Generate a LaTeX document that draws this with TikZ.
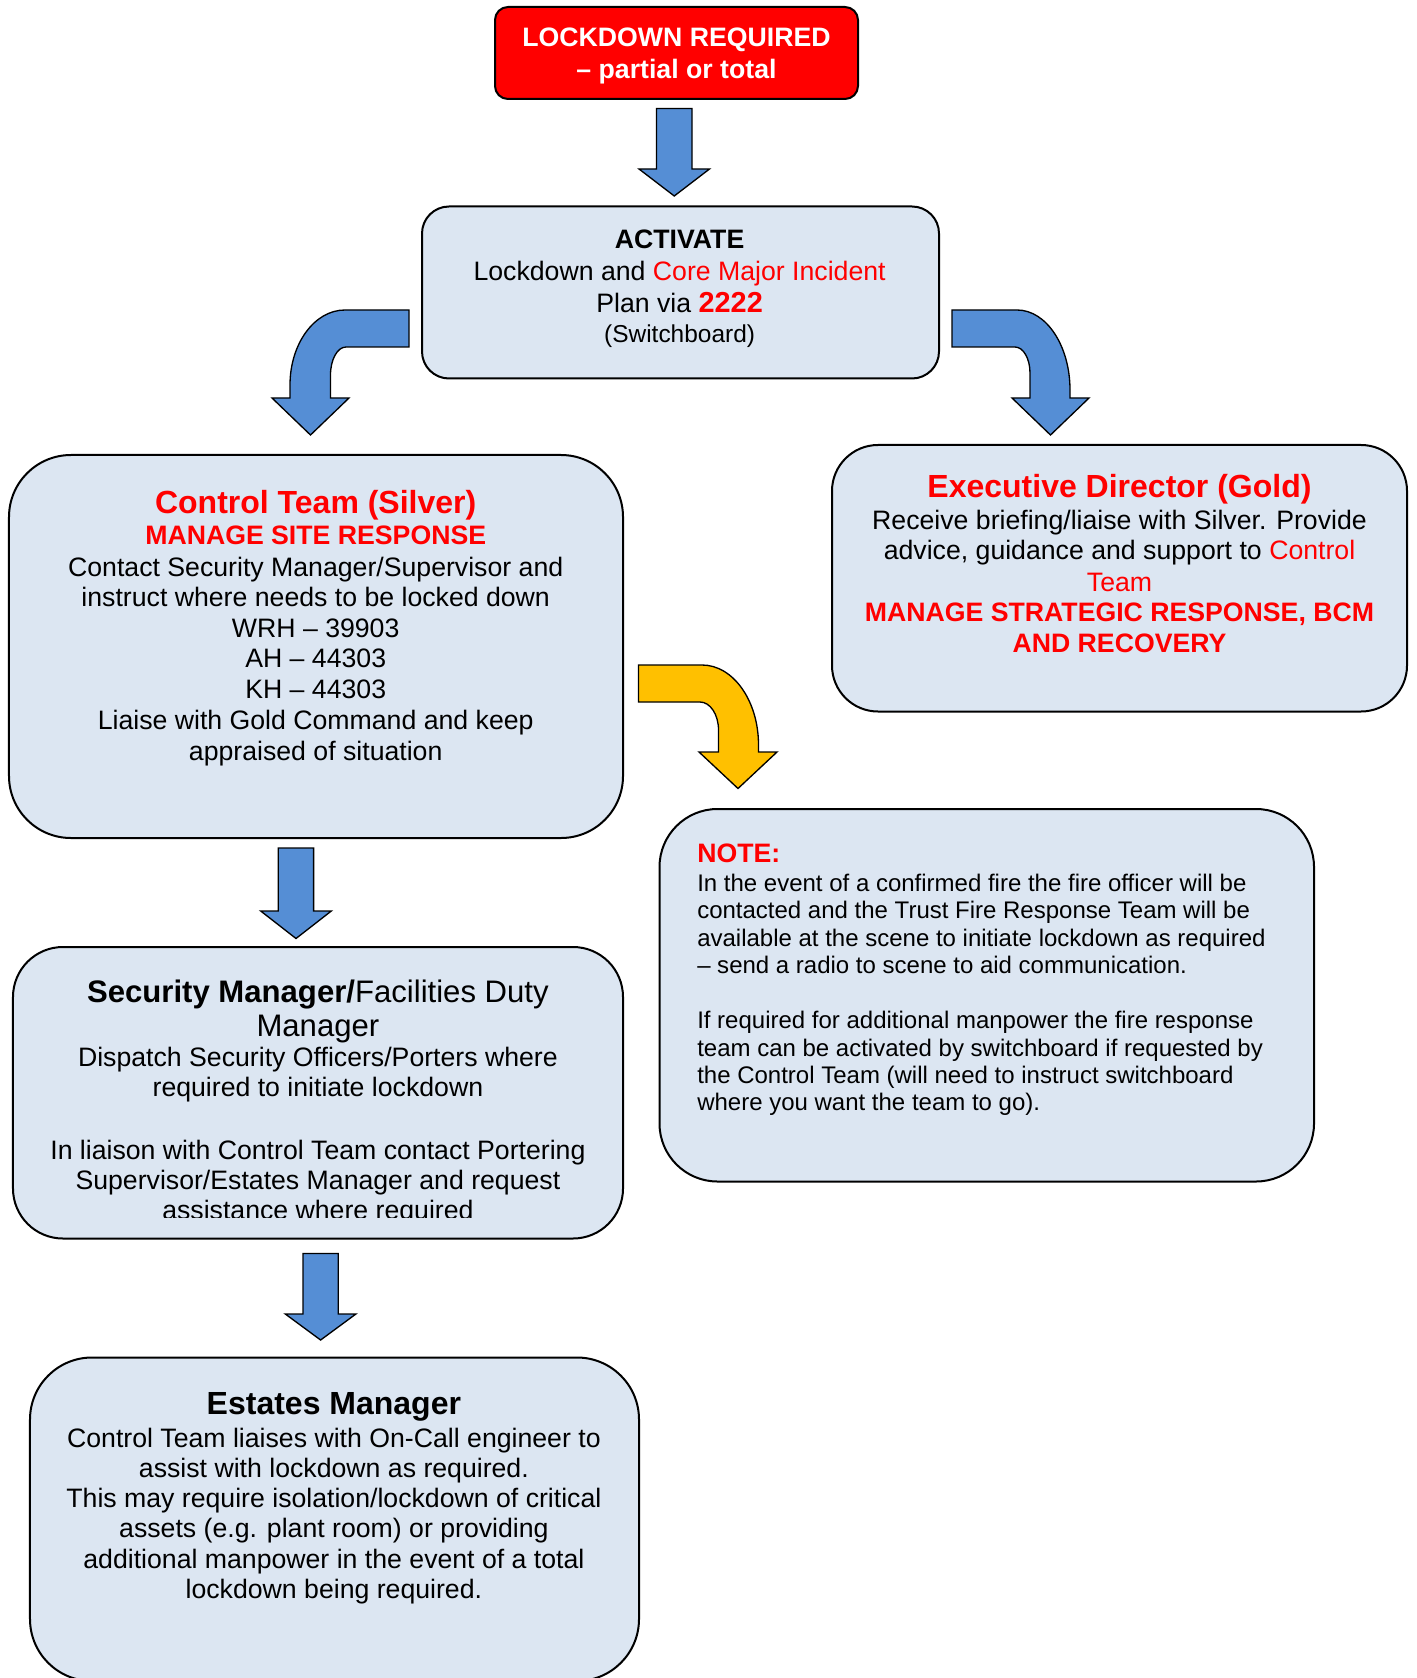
\documentclass[tikz,border=0pt]{standalone}
\usepackage{fontspec}
\setmainfont{Liberation Sans}
\definecolor{boxfill}{HTML}{DCE6F2}
\definecolor{arrowblue}{HTML}{558ED5}
\definecolor{arrowyellow}{HTML}{FFC000}
\definecolor{alertred}{HTML}{FF0000}
\newcommand\tline[4]{\node[anchor=base,#3] (#1) at (#2) {#4};}
\begin{document}
\begin{tikzpicture}[x=0.45pt,y=-0.45pt,
  box/.style={draw=black, line width=0.9pt, fill=boxfill, rectangle, inner sep=0pt},
  redbox/.style={draw=black, line width=0.9pt, fill=alertred, rectangle, inner sep=0pt},
  blockarrow/.style={draw=black, line width=0.6pt, fill=arrowblue, line join=miter},
  yellowarrow/.style={draw=black, line width=0.6pt, fill=arrowyellow, line join=miter},
  t12/.style={font=\fontsize{12}{14}\selectfont, inner sep=0pt},
  t12b/.style={font=\fontsize{12}{14}\selectfont\bfseries, inner sep=0pt},
  t14b/.style={font=\fontsize{14.4}{16}\selectfont\bfseries, inner sep=0pt},
  t14/.style={font=\fontsize{14}{16}\selectfont, inner sep=0pt},
  t11/.style={font=\fontsize{11}{13}\selectfont, inner sep=0pt},
  t11l/.style={font=\fontsize{10.8}{13}\selectfont, inner sep=0pt, anchor=base west}
]
\useasboundingbox (0,0) rectangle (1416,1678);

% ---- boxes ----
\node[redbox, rounded corners=5.85pt, minimum width=163.35pt, minimum height=41.4pt] (lockdown) at (676.5,53) {};
\node[box, rounded corners=12.15pt, minimum width=232.65pt, minimum height=77.4pt] (activate) at (680.5,292.5) {};
\node[box, rounded corners=27.9pt, minimum width=276.3pt, minimum height=172.35pt] (control) at (316,646.5) {};
\node[box, rounded corners=20.7pt, minimum width=258.75pt, minimum height=119.925pt] (exec) at (1119.5,578.25) {};
\node[box, rounded corners=26.1pt, minimum width=294.525pt, minimum height=167.625pt] (note) at (986.75,995.25) {};
\node[box, rounded corners=22.5pt, minimum width=274.5pt, minimum height=131.175pt] (security) at (318,1092.75) {};
\node[box, rounded corners=27.9pt, minimum width=274.05pt, minimum height=145.575pt] (estates) at (334.5,1519.25) {};

% ---- straight arrows ----
\draw[blockarrow] (656.5,108.5) -- (692,108.5) -- (692,169) -- (709.5,169) -- (674.25,196) -- (639,169) -- (656.5,169) -- cycle;
\draw[blockarrow] (278.3,848) -- (313.6,848) -- (313.6,911) -- (331.3,911) -- (296,938.5) -- (260.7,911) -- (278.3,911) -- cycle;
\draw[blockarrow] (303,1253.5) -- (338.2,1253.5) -- (338.2,1314) -- (355.9,1314) -- (320.6,1340) -- (285.3,1314) -- (303,1314) -- cycle;

% ---- curved arrows ----
\draw[blockarrow] (409,310) -- (345,310) .. controls (314.6,310) and (290,343.6) .. (290,385) -- (290,398) -- (272,398) -- (310.5,435) -- (349,398) -- (330.5,398) -- (330.5,375) .. controls (330.5,359.5) and (337.4,347) .. (346,347) -- (409,347) -- cycle;
\draw[blockarrow] (952,310) -- (1017,310) .. controls (1046.3,310) and (1070,345.8) .. (1070,390) -- (1070,398) -- (1089,398) -- (1050.5,435) -- (1012,398) -- (1030,398) -- (1030,373) .. controls (1030,358.6) and (1023.3,347) .. (1015,347) -- (952,347) -- cycle;
\draw[yellowarrow] (638.5,665) -- (702,665) .. controls (733.2,665) and (758.5,700.8) .. (758.5,745) -- (758.5,752) -- (777,752) -- (738,788.5) -- (699,752) -- (718.5,752) -- (718.5,730) .. controls (718.5,714.5) and (710.2,702) .. (700,702) -- (638.5,702) -- cycle;

% ---- texts: lockdown ----
\tline{r1}{676.5,47}{t12b,text=white}{LOCKDOWN REQUIRED}
\tline{r2}{676.5,78.5}{t12b,text=white}{– partial or total}

% ---- activate ----
\tline{a1}{679.6,248.3}{t12b}{ACTIVATE}
\tline{a2}{679.6,281}{t12}{Lockdown and \textcolor{alertred}{Core Major Incident}}
\tline{a3}{679.6,312.7}{t12}{Plan via \textcolor{alertred}{\fontsize{13}{15}\selectfont\bfseries 2222}}
\tline{a4}{679.6,342.7}{t11}{(Switchboard)}

% ---- control ----
\tline{c1}{315.7,513.5}{t14b,text=alertred}{Control Team (Silver)}
\tline{c2}{315.7,544}{t12b,text=alertred}{MANAGE SITE RESPONSE}
\tline{c3}{315.7,576.7}{t12}{Contact Security Manager/Supervisor and}
\tline{c4}{315.7,606}{t12}{instruct where needs to be locked down}
\tline{c5}{315.7,637.5}{t12}{WRH – 39903}
\tline{c6}{315.7,667.5}{t12}{AH – 44303}
\tline{c7}{315.7,698.3}{t12}{KH – 44303}
\tline{c8}{315.7,729.3}{t12}{Liaise with Gold Command and keep}
\tline{c9}{315.7,760}{t12}{appraised of situation}

% ---- exec ----
\tline{e1}{1119.5,498}{t14b,text=alertred}{Executive Director (Gold)}
\tline{e2}{1119.5,529.5}{t12}{Receive briefing/liaise with Silver. Provide}
\tline{e3}{1119.5,559.5}{t12}{advice, guidance and support to \textcolor{alertred}{Control}}
\tline{e4}{1119.5,591.5}{t12,text=alertred}{Team}
\tline{e5}{1119.5,621}{t12b,text=alertred}{MANAGE STRATEGIC RESPONSE, BCM}
\tline{e6}{1119.5,652.7}{t12b,text=alertred}{AND RECOVERY}

% ---- note ----
\tline{n0}{696.8,862}{t12b,text=alertred,anchor=base west}{NOTE:}
\tline{n1}{696.8,891.5}{t11l}{In the event of a confirmed fire the fire officer will be}
\tline{n2}{696.8,918.8}{t11l}{contacted and the Trust Fire Response Team will be}
\tline{n3}{696.8,946.2}{t11l}{available at the scene to initiate lockdown as required}
\tline{n4}{696.8,973.8}{t11l}{– send a radio to scene to aid communication.}
\tline{n5}{696.8,1028.8}{t11l}{If required for additional manpower the fire response}
\tline{n6}{696.8,1056.2}{t11l}{team can be activated by switchboard if requested by}
\tline{n7}{696.8,1083.8}{t11l}{the Control Team (will need to instruct switchboard}
\tline{n8}{696.8,1110.5}{t11l}{where you want the team to go).}

% ---- security ----
\tline{s1}{317.9,1002}{t14}{\bfseries Security Manager/\mdseries Facilities Duty}
\tline{s2}{317.9,1036.5}{t14}{Manager}
\tline{s3}{317.9,1066}{t12}{Dispatch Security Officers/Porters where}
\tline{s4}{317.9,1096}{t12}{required to initiate lockdown}
\tline{s5}{317.9,1159.3}{t12}{In liaison with Control Team contact Portering}
\tline{s6}{317.9,1189.3}{t12}{Supervisor/Estates Manager and request}
\begin{scope}
\clip (0,0) rectangle (1416,1217);
\tline{s7}{317.9,1219.3}{t12}{assistance where required}
\end{scope}

% ---- estates ----
\tline{m1}{333.9,1414}{t14b}{Estates Manager}
\tline{m2}{333.9,1447.5}{t12}{Control Team liaises with On-Call engineer to}
\tline{m3}{333.9,1477.5}{t12}{assist with lockdown as required.}
\tline{m4}{333.9,1507.5}{t12}{This may require isolation/lockdown of critical}
\tline{m5}{333.9,1537.5}{t12}{assets (e.g. plant room) or providing}
\tline{m6}{333.9,1568}{t12}{additional manpower in the event of a total}
\tline{m7}{333.9,1598.5}{t12}{lockdown being required.}
\end{tikzpicture}
\end{document}
